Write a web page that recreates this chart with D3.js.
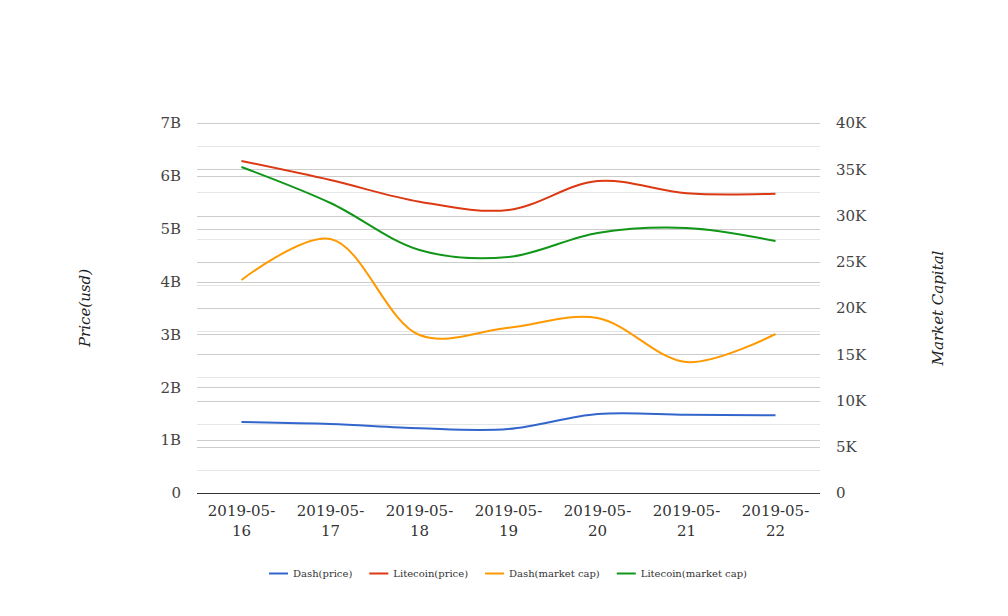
<!DOCTYPE html>
<html>
<head>
<meta charset="utf-8">
<script src="https://cdn.jsdelivr.net/npm/d3@7/dist/d3.min.js"></script>
<style>
  html, body { margin: 0; padding: 0; background: #fff; }
  svg { display: block; }
  text { font-family: "DejaVu Serif", serif; }
</style>
</head>
<body>
<svg id="chart" width="1008" height="616"></svg>
<script>
const dates = ["2019-05-16", "2019-05-17", "2019-05-18", "2019-05-19", "2019-05-20", "2019-05-21", "2019-05-22"];
const dashPrice = [1.343e9, 1.305e9, 1.224e9, 1.211e9, 1.495e9, 1.481e9, 1.470e9];
const litecoinPrice = [6.281e9, 5.92e9, 5.511e9, 5.354e9, 5.903e9, 5.670e9, 5.662e9];
const dashMarketCap = [23030, 27460, 17080, 17870, 18920, 14160, 17190];
const litecoinMarketCap = [35240, 31350, 26270, 25510, 28110, 28650, 27240];
const leftTicks = [0, 1e9, 2e9, 3e9, 4e9, 5e9, 6e9, 7e9];
const leftTickLabels = ["0", "1B", "2B", "3B", "4B", "5B", "6B", "7B"];
const rightTicks = [0, 5000, 10000, 15000, 20000, 25000, 30000, 35000, 40000];
const rightTickLabels = ["0", "5K", "10K", "15K", "20K", "25K", "30K", "35K", "40K"];
const rightMinorTicks = [2500, 7500, 12500, 17500, 22500, 27500, 32500, 37500];

const series = [
  { name: "Dash(price)", values: dashPrice, axis: "left", color: "#3366cc" },
  { name: "Litecoin(price)", values: litecoinPrice, axis: "left", color: "#dc3912" },
  { name: "Dash(market cap)", values: dashMarketCap, axis: "right", color: "#ff9900" },
  { name: "Litecoin(market cap)", values: litecoinMarketCap, axis: "right", color: "#109618" }
];

const svg = d3.select("#chart");
const pL = 197, pR = 820, pT = 123, pB = 493;

const x = d3.scaleBand().domain(dates).range([pL, pR]);
const yL = d3.scaleLinear().domain([0, 7e9]).range([pB, pT]);
const yR = d3.scaleLinear().domain([0, 40000]).range([pB, pT]);

// minor gridlines (right axis)
svg.append("g").selectAll("line").data(rightMinorTicks).join("line")
  .attr("x1", pL).attr("x2", pR)
  .attr("y1", d => Math.round(yR(d)) + 0.5).attr("y2", d => Math.round(yR(d)) + 0.5)
  .attr("stroke", "#e6e6e6").attr("stroke-width", 1);

// major gridlines right
svg.append("g").selectAll("line").data(rightTicks.filter(d => d > 0)).join("line")
  .attr("x1", pL).attr("x2", pR)
  .attr("y1", d => Math.round(yR(d)) + 0.5).attr("y2", d => Math.round(yR(d)) + 0.5)
  .attr("stroke", "#cccccc").attr("stroke-width", 1);

// major gridlines left
svg.append("g").selectAll("line").data(leftTicks.filter(d => d > 0)).join("line")
  .attr("x1", pL).attr("x2", pR)
  .attr("y1", d => Math.round(yL(d)) + 0.5).attr("y2", d => Math.round(yL(d)) + 0.5)
  .attr("stroke", "#cccccc").attr("stroke-width", 1);

// baseline
svg.append("line")
  .attr("x1", pL).attr("x2", pR)
  .attr("y1", pB + 0.5).attr("y2", pB + 0.5)
  .attr("stroke", "#333").attr("stroke-width", 1);

// left tick labels
svg.append("g").selectAll("text").data(leftTicks).join("text")
  .attr("x", 181).attr("y", d => yL(d)).attr("dy", "0.35em")
  .attr("text-anchor", "end").attr("font-size", 15).attr("fill", "#444")
  .text((d, i) => leftTickLabels[i]);

// right tick labels
svg.append("g").selectAll("text").data(rightTicks).join("text")
  .attr("x", 836).attr("y", d => yR(d)).attr("dy", "0.35em")
  .attr("text-anchor", "start").attr("font-size", 15).attr("fill", "#444")
  .text((d, i) => rightTickLabels[i]);

// x labels
const xl = svg.append("g").selectAll("text").data(dates).join("text")
  .attr("x", d => x(d) + x.bandwidth() / 2)
  .attr("text-anchor", "middle").attr("font-size", 15).attr("fill", "#333");
xl.append("tspan").attr("x", d => x(d) + x.bandwidth() / 2).attr("y", 516).text(d => d.slice(0, 8));
xl.append("tspan").attr("x", d => x(d) + x.bandwidth() / 2).attr("y", 536).text(d => d.slice(8));

// axis titles
svg.append("text").attr("transform", "translate(90,308) rotate(-90)")
  .attr("text-anchor", "middle").attr("font-size", 15).attr("font-style", "italic").attr("fill", "#222")
  .text("Price(usd)");
svg.append("text").attr("transform", "translate(943,308) rotate(-90)")
  .attr("text-anchor", "middle").attr("font-size", 15).attr("font-style", "italic").attr("fill", "#222")
  .text("Market Capital");

// lines
series.forEach(s => {
  const ys = s.axis === "left" ? yL : yR;
  const line = d3.line()
    .x((d, i) => x(dates[i]) + x.bandwidth() / 2)
    .y(d => ys(d))
    .curve(d3.curveCatmullRom.alpha(0.5));
  svg.append("path").datum(s.values)
    .attr("d", line).attr("fill", "none")
    .attr("stroke", s.color).attr("stroke-width", 2);
});

// legend
const lg = svg.append("g");
const items = [];
series.forEach(s => {
  const g = lg.append("g");
  g.append("line").attr("x1", 0).attr("x2", 19).attr("y1", 0).attr("y2", 0)
    .attr("stroke", s.color).attr("stroke-width", 2);
  const t = g.append("text").attr("x", 24).attr("y", 0).attr("dy", "0.35em")
    .attr("font-size", 10).attr("fill", "#333").text(s.name);
  items.push({ g, w: 24 + t.node().getComputedTextLength() });
});
const gap = 17;
const total = items.reduce((a, b) => a + b.w, 0) + gap * (items.length - 1);
let cx = 508 - total / 2;
items.forEach(it => {
  it.g.attr("transform", `translate(${cx},573.5)`);
  cx += it.w + gap;
});
</script>
</body>
</html>
